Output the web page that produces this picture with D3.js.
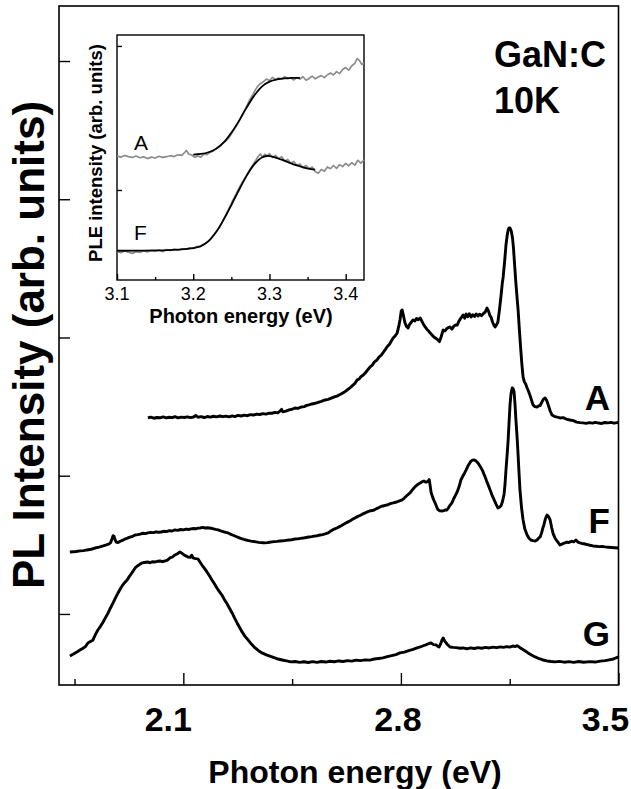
<!DOCTYPE html>
<html lang="en">
<head>
<meta charset="UTF-8">
<title>GaN:C PL spectra</title>
<script src="https://d3js.org/d3.v7.min.js"></script>
<style>
  body { margin: 0; background: #fff; }
  svg { display: block; font-family: "Liberation Sans", Arial, Helvetica, sans-serif; }
  .frame { fill: #fff; stroke: #000; stroke-width: 1.6px; }
  .axis path { display: none; }
  .axis line { stroke: #000; stroke-width: 1.4px; }
  .pl { fill: none; stroke: #000; stroke-width: 2.9px; stroke-linejoin: round; }
  .ple { fill: none; stroke: #8c8c8c; stroke-width: 1.7px; stroke-linejoin: round; }
  .fit { fill: none; stroke: #000; stroke-width: 1.8px; }
  .big { font-weight: bold; fill: #000; }
</style>
</head>
<body>
<svg width="631" height="789"></svg>
<script>
// PL spectra, [photon energy (eV), intensity (arb. units, offset)]
const specA = [[1.986,1.418],[1.995,1.424],[2.005,1.416],[2.015,1.421],[2.025,1.419],[2.035,1.425],[2.045,1.418],[2.055,1.423],[2.065,1.420],[2.073,1.427],[2.083,1.419],[2.093,1.424],[2.103,1.421],[2.113,1.426],[2.123,1.420],[2.133,1.425],[2.140,1.436],[2.147,1.423],[2.157,1.427],[2.167,1.421],[2.177,1.428],[2.187,1.424],[2.197,1.430],[2.207,1.426],[2.217,1.432],[2.227,1.427],[2.237,1.431],[2.247,1.426],[2.257,1.433],[2.266,1.428],[2.276,1.436],[2.286,1.432],[2.296,1.438],[2.306,1.434],[2.316,1.442],[2.326,1.439],[2.336,1.446],[2.346,1.443],[2.356,1.449],[2.366,1.446],[2.376,1.453],[2.385,1.452],[2.395,1.458],[2.405,1.455],[2.412,1.470],[2.416,1.480],[2.420,1.462],[2.430,1.467],[2.440,1.476],[2.450,1.481],[2.459,1.490],[2.469,1.487],[2.479,1.497],[2.489,1.500],[2.497,1.509],[2.504,1.512],[2.514,1.519],[2.524,1.524],[2.534,1.531],[2.544,1.538],[2.556,1.548],[2.566,1.552],[2.576,1.561],[2.586,1.570],[2.594,1.576],[2.601,1.584],[2.610,1.595],[2.620,1.608],[2.628,1.622],[2.636,1.635],[2.644,1.652],[2.652,1.668],[2.659,1.693],[2.666,1.700],[2.672,1.718],[2.679,1.728],[2.685,1.743],[2.693,1.765],[2.701,1.787],[2.708,1.800],[2.715,1.824],[2.723,1.837],[2.730,1.860],[2.737,1.872],[2.744,1.895],[2.749,1.910],[2.756,1.935],[2.763,1.950],[2.770,1.978],[2.775,1.996],[2.782,2.012],[2.788,2.033],[2.793,2.080],[2.797,2.127],[2.801,2.190],[2.804,2.199],[2.808,2.160],[2.813,2.105],[2.818,2.080],[2.823,2.069],[2.828,2.095],[2.834,2.112],[2.839,2.127],[2.845,2.120],[2.850,2.138],[2.856,2.128],[2.862,2.141],[2.867,2.120],[2.872,2.098],[2.878,2.076],[2.884,2.058],[2.890,2.045],[2.895,2.030],[2.900,2.018],[2.906,2.004],[2.912,1.995],[2.919,1.982],[2.924,1.970],[2.929,2.002],[2.936,2.054],[2.942,2.048],[2.948,2.065],[2.953,2.072],[2.958,2.076],[2.964,2.060],[2.970,2.082],[2.976,2.090],[2.981,2.090],[2.986,2.115],[2.991,2.134],[2.996,2.150],[3.000,2.163],[3.005,2.140],[3.010,2.170],[3.015,2.150],[3.020,2.172],[3.026,2.148],[3.031,2.165],[3.037,2.152],[3.042,2.170],[3.048,2.155],[3.053,2.168],[3.059,2.158],[3.065,2.172],[3.071,2.184],[3.077,2.213],[3.082,2.190],[3.086,2.160],[3.090,2.148],[3.095,2.110],[3.100,2.085],[3.103,2.076],[3.107,2.090],[3.112,2.112],[3.117,2.200],[3.122,2.300],[3.126,2.390],[3.129,2.438],[3.134,2.560],[3.138,2.669],[3.142,2.740],[3.145,2.778],[3.148,2.792],[3.151,2.792],[3.155,2.770],[3.159,2.720],[3.162,2.650],[3.166,2.520],[3.170,2.390],[3.174,2.280],[3.177,2.199],[3.181,2.060],[3.185,1.930],[3.189,1.810],[3.193,1.714],[3.197,1.680],[3.201,1.665],[3.205,1.640],[3.209,1.620],[3.214,1.590],[3.219,1.555],[3.225,1.512],[3.231,1.500],[3.238,1.497],[3.243,1.505],[3.248,1.508],[3.253,1.530],[3.258,1.552],[3.264,1.562],[3.269,1.545],[3.274,1.512],[3.280,1.470],[3.286,1.439],[3.293,1.430],[3.300,1.425],[3.312,1.418],[3.322,1.420],[3.332,1.410],[3.344,1.403],[3.355,1.398],[3.365,1.388],[3.376,1.384],[3.386,1.382],[3.396,1.379],[3.406,1.384],[3.416,1.380],[3.426,1.386],[3.436,1.381],[3.446,1.378],[3.456,1.385],[3.466,1.382],[3.476,1.386],[3.486,1.380],[3.495,1.384],[3.500,1.387]];

const specF = [[1.735,0.448],[1.745,0.450],[1.755,0.452],[1.768,0.456],[1.779,0.458],[1.790,0.463],[1.803,0.468],[1.816,0.477],[1.829,0.484],[1.842,0.492],[1.852,0.499],[1.861,0.506],[1.866,0.516],[1.870,0.540],[1.874,0.566],[1.877,0.562],[1.880,0.540],[1.884,0.520],[1.890,0.517],[1.897,0.526],[1.904,0.532],[1.912,0.542],[1.920,0.548],[1.928,0.556],[1.936,0.560],[1.945,0.571],[1.953,0.574],[1.962,0.578],[1.970,0.584],[1.978,0.581],[1.986,0.586],[1.995,0.590],[2.004,0.588],[2.012,0.594],[2.020,0.591],[2.028,0.593],[2.037,0.598],[2.046,0.596],[2.055,0.602],[2.064,0.600],[2.073,0.608],[2.082,0.605],[2.091,0.611],[2.100,0.608],[2.109,0.614],[2.117,0.611],[2.125,0.615],[2.133,0.618],[2.140,0.616],[2.147,0.621],[2.154,0.622],[2.162,0.626],[2.170,0.622],[2.177,0.624],[2.183,0.622],[2.190,0.620],[2.197,0.616],[2.204,0.612],[2.212,0.608],[2.220,0.601],[2.228,0.596],[2.236,0.590],[2.244,0.586],[2.251,0.578],[2.258,0.571],[2.266,0.564],[2.273,0.557],[2.280,0.551],[2.287,0.545],[2.295,0.539],[2.302,0.535],[2.310,0.531],[2.318,0.527],[2.326,0.524],[2.334,0.521],[2.342,0.518],[2.350,0.516],[2.357,0.515],[2.363,0.514],[2.370,0.516],[2.378,0.519],[2.385,0.521],[2.393,0.523],[2.402,0.525],[2.411,0.528],[2.420,0.529],[2.430,0.532],[2.440,0.535],[2.449,0.537],[2.459,0.542],[2.468,0.543],[2.477,0.547],[2.486,0.549],[2.495,0.553],[2.504,0.557],[2.513,0.559],[2.522,0.563],[2.531,0.566],[2.540,0.571],[2.548,0.574],[2.556,0.579],[2.566,0.586],[2.573,0.598],[2.580,0.608],[2.587,0.615],[2.594,0.622],[2.601,0.630],[2.608,0.638],[2.616,0.649],[2.623,0.658],[2.630,0.666],[2.637,0.674],[2.645,0.686],[2.652,0.694],[2.660,0.704],[2.668,0.712],[2.676,0.722],[2.685,0.731],[2.692,0.738],[2.699,0.745],[2.707,0.748],[2.714,0.752],[2.721,0.762],[2.728,0.768],[2.735,0.776],[2.742,0.781],[2.750,0.786],[2.758,0.790],[2.766,0.798],[2.775,0.803],[2.783,0.808],[2.791,0.814],[2.798,0.820],[2.804,0.825],[2.811,0.838],[2.817,0.852],[2.823,0.864],[2.829,0.875],[2.835,0.892],[2.840,0.906],[2.845,0.919],[2.851,0.931],[2.857,0.941],[2.862,0.948],[2.868,0.956],[2.874,0.962],[2.879,0.955],[2.884,0.955],[2.888,0.962],[2.891,0.972],[2.894,0.930],[2.897,0.880],[2.902,0.845],[2.906,0.822],[2.910,0.803],[2.915,0.775],[2.919,0.755],[2.925,0.746],[2.932,0.745],[2.938,0.748],[2.944,0.753],[2.948,0.752],[2.953,0.768],[2.958,0.786],[2.964,0.803],[2.969,0.830],[2.975,0.856],[2.981,0.882],[2.987,0.920],[2.993,0.969],[2.999,0.996],[3.005,1.020],[3.010,1.042],[3.015,1.068],[3.021,1.090],[3.026,1.107],[3.031,1.113],[3.035,1.114],[3.040,1.110],[3.045,1.099],[3.050,1.085],[3.054,1.070],[3.058,1.056],[3.063,1.035],[3.067,1.012],[3.071,0.991],[3.076,0.960],[3.081,0.932],[3.087,0.897],[3.093,0.860],[3.100,0.825],[3.106,0.795],[3.112,0.767],[3.117,0.772],[3.122,0.781],[3.127,0.815],[3.132,0.868],[3.135,0.940],[3.138,1.042],[3.142,1.160],[3.145,1.259],[3.148,1.390],[3.151,1.512],[3.154,1.590],[3.158,1.635],[3.161,1.630],[3.164,1.606],[3.167,1.520],[3.170,1.403],[3.174,1.270],[3.177,1.150],[3.180,1.020],[3.183,0.897],[3.188,0.770],[3.193,0.680],[3.199,0.612],[3.206,0.571],[3.212,0.548],[3.218,0.535],[3.225,0.530],[3.232,0.528],[3.238,0.535],[3.243,0.548],[3.248,0.557],[3.253,0.590],[3.257,0.625],[3.260,0.644],[3.265,0.690],[3.270,0.716],[3.275,0.705],[3.280,0.680],[3.285,0.625],[3.290,0.579],[3.296,0.548],[3.302,0.528],[3.308,0.510],[3.312,0.499],[3.318,0.505],[3.324,0.512],[3.328,0.514],[3.334,0.520],[3.339,0.516],[3.344,0.521],[3.350,0.526],[3.356,0.522],[3.363,0.535],[3.369,0.520],[3.376,0.514],[3.382,0.510],[3.388,0.508],[3.392,0.506],[3.400,0.502],[3.408,0.497],[3.418,0.492],[3.428,0.490],[3.438,0.487],[3.448,0.488],[3.457,0.485],[3.467,0.483],[3.477,0.481],[3.488,0.479],[3.500,0.477]];

const specG = [[1.735,-0.304],[1.745,-0.292],[1.752,-0.282],[1.760,-0.272],[1.768,-0.260],[1.776,-0.250],[1.785,-0.236],[1.793,-0.210],[1.801,-0.200],[1.809,-0.190],[1.817,-0.150],[1.825,-0.116],[1.834,-0.088],[1.842,-0.058],[1.850,-0.025],[1.858,0.007],[1.866,0.045],[1.874,0.080],[1.882,0.118],[1.890,0.152],[1.897,0.180],[1.903,0.203],[1.911,0.226],[1.919,0.246],[1.926,0.270],[1.932,0.289],[1.939,0.312],[1.945,0.333],[1.951,0.345],[1.957,0.354],[1.963,0.364],[1.967,0.369],[1.975,0.372],[1.986,0.376],[1.993,0.370],[2.000,0.378],[2.009,0.376],[2.017,0.381],[2.025,0.383],[2.033,0.378],[2.041,0.383],[2.049,0.390],[2.057,0.405],[2.065,0.412],[2.073,0.427],[2.081,0.436],[2.089,0.448],[2.095,0.440],[2.102,0.427],[2.108,0.420],[2.115,0.412],[2.122,0.410],[2.127,0.425],[2.131,0.405],[2.139,0.400],[2.147,0.398],[2.153,0.378],[2.160,0.354],[2.168,0.330],[2.176,0.304],[2.184,0.276],[2.192,0.246],[2.200,0.218],[2.208,0.188],[2.216,0.162],[2.224,0.137],[2.232,0.105],[2.241,0.072],[2.249,0.040],[2.257,0.007],[2.265,-0.030],[2.273,-0.065],[2.281,-0.098],[2.289,-0.130],[2.298,-0.160],[2.308,-0.188],[2.319,-0.218],[2.331,-0.246],[2.342,-0.266],[2.353,-0.282],[2.369,-0.298],[2.385,-0.311],[2.401,-0.324],[2.418,-0.333],[2.432,-0.340],[2.446,-0.347],[2.460,-0.344],[2.474,-0.350],[2.488,-0.346],[2.502,-0.351],[2.516,-0.345],[2.530,-0.350],[2.544,-0.344],[2.558,-0.348],[2.572,-0.342],[2.586,-0.346],[2.600,-0.340],[2.614,-0.344],[2.628,-0.338],[2.642,-0.341],[2.656,-0.334],[2.670,-0.338],[2.685,-0.332],[2.700,-0.334],[2.714,-0.326],[2.728,-0.322],[2.742,-0.318],[2.756,-0.309],[2.770,-0.302],[2.784,-0.294],[2.797,-0.282],[2.811,-0.276],[2.825,-0.265],[2.839,-0.256],[2.852,-0.246],[2.862,-0.239],[2.872,-0.230],[2.882,-0.222],[2.890,-0.214],[2.897,-0.210],[2.905,-0.222],[2.913,-0.224],[2.919,-0.235],[2.923,-0.239],[2.928,-0.215],[2.932,-0.190],[2.936,-0.174],[2.941,-0.196],[2.948,-0.217],[2.958,-0.239],[2.968,-0.242],[2.978,-0.244],[2.990,-0.248],[3.000,-0.246],[3.012,-0.252],[3.024,-0.245],[3.036,-0.250],[3.048,-0.244],[3.060,-0.248],[3.072,-0.242],[3.084,-0.246],[3.096,-0.240],[3.108,-0.244],[3.120,-0.238],[3.130,-0.242],[3.140,-0.236],[3.150,-0.240],[3.160,-0.232],[3.168,-0.236],[3.174,-0.229],[3.182,-0.242],[3.190,-0.253],[3.200,-0.268],[3.209,-0.282],[3.220,-0.297],[3.232,-0.311],[3.245,-0.324],[3.257,-0.333],[3.270,-0.340],[3.283,-0.344],[3.296,-0.347],[3.310,-0.343],[3.325,-0.349],[3.341,-0.345],[3.356,-0.350],[3.372,-0.344],[3.388,-0.349],[3.408,-0.345],[3.425,-0.348],[3.441,-0.341],[3.457,-0.338],[3.470,-0.332],[3.480,-0.328],[3.490,-0.320],[3.500,-0.311]];

// inset: PLE spectra (gray) and fits (black)
const pleA = [[3.100,0.236],[3.105,0.228],[3.110,0.240],[3.115,0.232],[3.120,0.226],[3.125,0.236],[3.130,0.224],[3.135,0.230],[3.140,0.218],[3.145,0.228],[3.150,0.222],[3.155,0.234],[3.160,0.226],[3.165,0.231],[3.170,0.238],[3.175,0.232],[3.180,0.244],[3.185,0.240],[3.189,0.262],[3.191,0.275],[3.194,0.250],[3.198,0.243],[3.202,0.226],[3.206,0.236],[3.210,0.228],[3.214,0.250],[3.218,0.246],[3.222,0.262],[3.226,0.270],[3.230,0.285],[3.235,0.301],[3.240,0.330],[3.244,0.346],[3.248,0.372],[3.252,0.405],[3.256,0.438],[3.261,0.486],[3.265,0.530],[3.270,0.580],[3.274,0.625],[3.278,0.660],[3.282,0.700],[3.285,0.722],[3.288,0.738],[3.292,0.752],[3.296,0.770],[3.300,0.760],[3.304,0.782],[3.308,0.766],[3.312,0.778],[3.316,0.770],[3.320,0.786],[3.324,0.772],[3.328,0.778],[3.332,0.764],[3.336,0.780],[3.340,0.770],[3.344,0.786],[3.348,0.762],[3.352,0.774],[3.356,0.790],[3.360,0.772],[3.364,0.784],[3.368,0.794],[3.372,0.780],[3.376,0.800],[3.380,0.812],[3.384,0.798],[3.388,0.822],[3.392,0.808],[3.396,0.836],[3.400,0.850],[3.404,0.832],[3.408,0.862],[3.412,0.880],[3.415,0.912],[3.418,0.900],[3.421,0.872],[3.424,0.880]];
const pleF = [[3.100,-0.428],[3.105,-0.436],[3.110,-0.424],[3.115,-0.432],[3.120,-0.440],[3.125,-0.428],[3.130,-0.434],[3.135,-0.422],[3.140,-0.430],[3.145,-0.420],[3.150,-0.426],[3.155,-0.418],[3.160,-0.428],[3.165,-0.414],[3.170,-0.420],[3.175,-0.410],[3.180,-0.418],[3.185,-0.408],[3.190,-0.412],[3.195,-0.402],[3.200,-0.406],[3.205,-0.392],[3.209,-0.394],[3.213,-0.378],[3.217,-0.368],[3.222,-0.347],[3.226,-0.318],[3.230,-0.292],[3.235,-0.255],[3.239,-0.212],[3.243,-0.170],[3.248,-0.116],[3.252,-0.070],[3.256,-0.030],[3.261,0.023],[3.265,0.060],[3.270,0.102],[3.274,0.139],[3.278,0.172],[3.282,0.205],[3.285,0.231],[3.288,0.250],[3.291,0.228],[3.294,0.248],[3.297,0.236],[3.300,0.252],[3.304,0.226],[3.308,0.240],[3.312,0.218],[3.316,0.230],[3.320,0.200],[3.324,0.212],[3.328,0.186],[3.332,0.198],[3.336,0.170],[3.340,0.180],[3.344,0.156],[3.348,0.170],[3.352,0.146],[3.356,0.160],[3.360,0.128],[3.364,0.116],[3.368,0.142],[3.372,0.130],[3.376,0.160],[3.380,0.148],[3.384,0.170],[3.388,0.150],[3.392,0.176],[3.396,0.162],[3.400,0.185],[3.404,0.168],[3.408,0.190],[3.412,0.172],[3.416,0.206],[3.420,0.186],[3.424,0.208]];
const fitA = [[3.200,0.245],[3.210,0.250],[3.220,0.262],[3.230,0.287],[3.240,0.330],[3.250,0.398],[3.260,0.480],[3.270,0.572],[3.280,0.655],[3.290,0.718],[3.300,0.752],[3.310,0.768],[3.320,0.775],[3.330,0.778],[3.340,0.778]];
const fitF = [[3.100,-0.422],[3.150,-0.420],[3.180,-0.414],[3.200,-0.404],[3.210,-0.390],[3.220,-0.355],[3.230,-0.292],[3.240,-0.205],[3.250,-0.105],[3.260,0.000],[3.270,0.098],[3.280,0.178],[3.290,0.226],[3.297,0.236],[3.305,0.230],[3.315,0.212],[3.325,0.192],[3.335,0.172],[3.345,0.156],[3.355,0.145],[3.360,0.141]];

// ticks
const xMajor = [2.1, 2.8, 3.5];
const xMinor = [1.75, 2.45, 3.15];
const yTicks = [0, 1, 2, 3, 4];
const insetMajor = [3.1, 3.2, 3.3, 3.4];
const insetMinor = [3.15, 3.25, 3.35];
const insetYTicks = [0, 1];

const svg = d3.select("svg");

// ---- main panel ----
const x = d3.scaleLinear().domain([1.7, 3.5]).range([59, 618.5]);
const y = d3.scaleLinear().domain([-0.514, 4.398]).range([685, 6]);

svg.append("rect").attr("class", "frame")
    .attr("x", x.range()[0]).attr("y", y.range()[1])
    .attr("width", x.range()[1] - x.range()[0])
    .attr("height", y.range()[0] - y.range()[1]);

svg.append("g").attr("class", "axis")
    .attr("transform", "translate(0," + y.range()[0] + ")")
    .call(d3.axisBottom(x).tickValues(xMajor).tickSize(-12).tickFormat(""));
svg.append("g").attr("class", "axis")
    .attr("transform", "translate(0," + y.range()[0] + ")")
    .call(d3.axisBottom(x).tickValues(xMinor).tickSize(-6).tickFormat(""));
svg.append("g").attr("class", "axis")
    .attr("transform", "translate(" + x.range()[0] + ",0)")
    .call(d3.axisLeft(y).tickValues(yTicks).tickSize(-11).tickFormat(""));

const line = d3.line().x(d => x(d[0])).y(d => y(d[1]));
[specA, specF, specG].forEach(s => {
    svg.append("path").datum(s).attr("class", "pl").attr("d", line);
});

// tick labels sit a bit left of their ticks in the original
const labelShift = { 2.1: -15, 2.8: -3, 3.5: -13 };
svg.selectAll(".xlab").data(xMajor).enter().append("text")
    .attr("class", "big xlab")
    .attr("x", d => x(d) + labelShift[d]).attr("y", 731)
    .attr("text-anchor", "middle")
    .style("font-size", "34px")
    .text(d => d.toFixed(1));

svg.append("text").attr("class", "big")
    .attr("x", 355).attr("y", 783)
    .attr("text-anchor", "middle")
    .style("font-size", "32px")
    .text("Photon energy (eV)");

svg.append("text").attr("class", "big")
    .attr("transform", "translate(44,345) rotate(-90)")
    .attr("text-anchor", "middle")
    .style("font-size", "44px")
    .text("PL Intensity (arb. units)");

svg.append("text").attr("class", "big").attr("x", 494).attr("y", 67)
    .style("font-size", "36px").text("GaN:C");
svg.append("text").attr("class", "big").attr("x", 494).attr("y", 113)
    .style("font-size", "36px").text("10K");

// curve names, placed at the level (arb. units) where they sit beside each trace
const curveLabels = [["A", 1.569], ["F", 0.679], ["G", -0.138]];
svg.selectAll(".clab").data(curveLabels).enter().append("text")
    .attr("class", "big clab")
    .attr("x", 610).attr("y", d => y(d[1]) + 13)
    .attr("text-anchor", "end")
    .style("font-size", "35px")
    .text(d => d[0]);

// ---- inset ----
const ix = d3.scaleLinear().domain([3.1, 3.424]).range([117, 364]);
const iy = d3.scaleLinear().domain([-0.625, 1.076]).range([280, 35]);

svg.append("rect").attr("class", "frame")
    .attr("x", ix.range()[0]).attr("y", iy.range()[1])
    .attr("width", ix.range()[1] - ix.range()[0])
    .attr("height", iy.range()[0] - iy.range()[1])
    .style("stroke-width", "1.4px");

svg.append("g").attr("class", "axis")
    .attr("transform", "translate(0," + iy.range()[0] + ")")
    .call(d3.axisBottom(ix).tickValues(insetMajor).tickSize(-6).tickFormat(""));
svg.append("g").attr("class", "axis")
    .attr("transform", "translate(0," + iy.range()[0] + ")")
    .call(d3.axisBottom(ix).tickValues(insetMinor).tickSize(-3).tickFormat(""));
svg.append("g").attr("class", "axis")
    .attr("transform", "translate(" + ix.range()[0] + ",0)")
    .call(d3.axisLeft(iy).tickValues(insetYTicks).tickSize(-5).tickFormat(""));

const iline = d3.line().x(d => ix(d[0])).y(d => iy(d[1]));
const ifit = d3.line().x(d => ix(d[0])).y(d => iy(d[1])).curve(d3.curveCatmullRom);
[pleA, pleF].forEach(s => svg.append("path").datum(s).attr("class", "ple").attr("d", iline));
[fitA, fitF].forEach(s => svg.append("path").datum(s).attr("class", "fit").attr("d", ifit));

svg.selectAll(".ixlab").data(insetMajor).enter().append("text")
    .attr("class", "ixlab")
    .attr("x", d => ix(d)).attr("y", 300)
    .attr("text-anchor", "middle")
    .style("font-size", "18px")
    .text(d => d.toFixed(1));

svg.append("text").attr("class", "big")
    .attr("x", 241).attr("y", 323)
    .attr("text-anchor", "middle")
    .style("font-size", "20px")
    .text("Photon energy (eV)");

svg.append("text").attr("class", "big")
    .attr("transform", "translate(102,153) rotate(-90)")
    .attr("text-anchor", "middle")
    .style("font-size", "18.5px")
    .text("PLE intensity (arb. units)");

const insetLabels = [["A", 0.28], ["F", -0.35]];
svg.selectAll(".ilab").data(insetLabels).enter().append("text")
    .attr("x", 134).attr("y", d => iy(d[1]))
    .style("font-size", "21px")
    .text(d => d[0]);
</script>
</body>
</html>
